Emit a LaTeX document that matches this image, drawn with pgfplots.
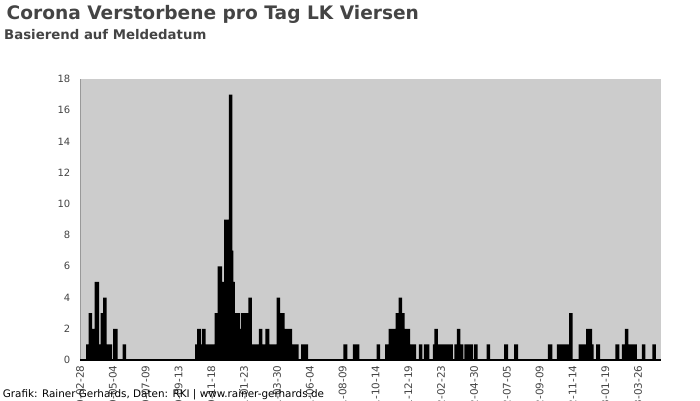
\documentclass[border=0pt]{standalone}
\usepackage{fontspec}
\setmainfont{DejaVu Sans}
\usepackage{pgfplots}
\pgfplotsset{compat=1.18}
\definecolor{bg}{HTML}{CCCCCC}
\definecolor{txt}{HTML}{444444}
\definecolor{axc}{HTML}{999999}
\begin{document}
\begin{tikzpicture}[x=1pt,y=1pt]
\begin{scope}
\clip (0,0) rectangle (700,400);
\begin{axis}[
  at={(80pt,40pt)}, anchor=south west,
  width=581pt, height=281pt, scale only axis,
  xmin=0, xmax=1168, ymin=0, ymax=18,
  axis background/.style={fill=bg},
  axis x line*=bottom, axis y line*=left,
  x axis line style={draw=none},
  y axis line style={draw=axc, line width=1pt},
  ytick={0,2,...,18},
  xtick={0,66,...,1122},
  xticklabels={2020-02-28,2020-05-04,2020-07-09,2020-09-13,2020-11-18,2021-01-23,2021-03-30,2021-06-04,2021-08-09,2021-10-14,2021-12-19,2022-02-23,2022-04-30,2022-07-05,2022-09-09,2022-11-14,2023-01-19,2023-03-26},
  tick style={draw=none},
  major tick length=0pt,
  ticklabel style={font=\fontsize{10}{12}\selectfont, text=txt},
  yticklabel style={anchor=east, inner sep=0pt, xshift=-9.5pt},
  xticklabel style={yshift=-5.5pt, rotate=90, anchor=east, inner sep=0pt, font=\fontsize{10.4}{12}\selectfont},
  /pgf/number format/assume math mode=true,
  clip=false,
]
\addplot[ybar, bar width=3.5pt, bar shift=0pt, fill=black, draw=none] coordinates {
(16,1) (21,3) (28,2) (33,5) (35,5) (40,1) (45,3) (50,4) (55,1) (58,1) (61,1) (70,2) (72,2) (89,1)
(235,1) (239,2) (240,2) (243,1) (249,2) (253,1) (256,1) (259,1) (262,1) (265,1) (268,1) (274,3) (280,6) (282,6) (287,5) (293,9) (296,9) (303,17) (305,7) (308,5) (312,3) (315,3) (318,3) (322,2) (327,3) (330,3) (333,3) (335,3) (342,4) (349,1) (352,1) (356,1) (363,2) (369,1) (376,2) (377,2) (384,1) (387,1) (391,1) (399,4) (402,3) (405,3) (408,3) (412,2) (415,2) (418,2) (421,2) (423,2) (427,1) (430,1) (433,1) (436,1) (448,1) (451,1) (455,1)
(533,1) (534,1) (552,1) (555,1) (558,1) (600,1) (617,1) (624,2) (627,2) (630,2) (633,2) (638,3) (641,3) (644,4) (647,3) (649,3) (652,2) (656,2) (660,2) (664,1) (668,1) (672,1) (685,1) (695,1) (699,1) (713,1) (716,2) (720,1) (724,1) (728,1) (732,1) (736,1) (740,1) (743,1) (746,1) (756,1) (761,2) (764,1) (767,1) (776,1) (780,1) (784,1) (787,1) (796,1) (821,1) (856,1) (857,1) (876,1) (877,1) (944,1) (946,1) (962,1) (966,1) (970,1) (974,1) (980,1) (987,3) (1006,1) (1010,1) (1014,1) (1021,2) (1024,2) (1026,2) (1029,1) (1041,1) (1042,1) (1080,1) (1081,1) (1093,1) (1099,2) (1104,1) (1108,1) (1112,1) (1116,1) (1133,1) (1154,1)
};
\addplot[black, line width=2pt, forget plot] coordinates {(0,0) (1168,0)};
\end{axis}
\node[anchor=base west, inner sep=0pt, text=txt, font=\bfseries\fontsize{18.6}{22}\selectfont] at (6.5,381) {Corona Verstorbene pro Tag LK Viersen};
\node[anchor=base west, inner sep=0pt, text=txt, font=\bfseries\fontsize{13.3}{16}\selectfont] at (4,360.7) {Basierend auf Meldedatum};
\node[anchor=base west, inner sep=0pt, text=black, font=\fontsize{10.4}{12}\selectfont] at (2.7,3) {Grafik: Rainer Gerhards, Daten: RKI | www.rainer-gerhards.de};
\end{scope}
\pgfresetboundingbox
\path[use as bounding box] (0,0) rectangle (700,400);
\end{tikzpicture}
\end{document}
